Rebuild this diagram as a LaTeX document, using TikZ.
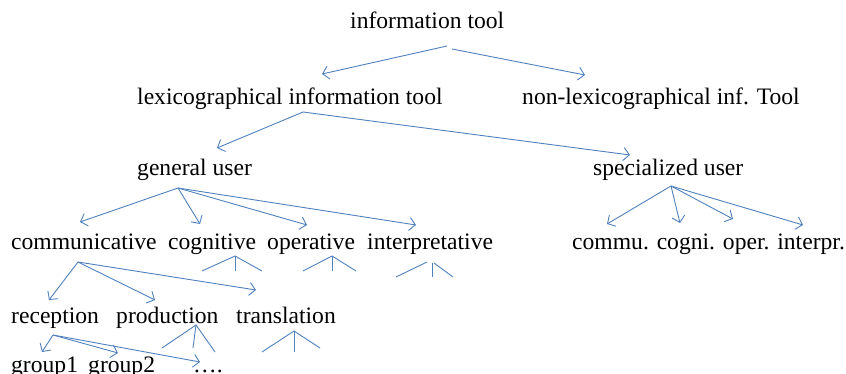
\documentclass[tikz,border=0pt]{standalone}
\usepackage{fontspec}
\setmainfont{Liberation Serif}
\usetikzlibrary{arrows.meta}
\definecolor{lineblue}{RGB}{79,129,189}
\tikzset{
  lbl/.style={anchor=base west, inner sep=0pt, font=\fontsize{23.6}{28}\selectfont},
  arr/.style={draw=lineblue, line width=0.9pt, -{Straight Barb[length=6pt,width=13pt,line width=0.9pt]}},
  stub/.style={draw=lineblue, line width=0.9pt}
}
\begin{document}
\begin{tikzpicture}[x=1pt,y=-1pt]
\useasboundingbox (0,0) rectangle (846,374);
% texts
\node[lbl] (it) at (350,29) {information tool};
\node[lbl] (lex) at (137,105) {lexicographical information tool};
\node[lbl] (nonlex) at (522,105) {non-lexicographical inf. Tool};
\node[lbl] (gen) at (137,176) {general user};
\node[lbl] (spec) at (593,176) {specialized user};
\node[lbl] (comm) at (11,249) {communicative};
\node[lbl] (cogn) at (168,249) {cognitive};
\node[lbl] (oper) at (267,249) {operative};
\node[lbl] (interp) at (367,249) {interpretative};
\node[lbl] (sabbr) at (572,250) {commu. cogni. oper. interpr.};
\node[lbl] (rec) at (11,323) {reception};
\node[lbl] (prod) at (116,323) {production};
\node[lbl] (trans) at (236,323) {translation};
\node[lbl] (g1) at (11,372) {group1};
\node[lbl] (g2) at (88,372) {group2};
\node[lbl] (dots) at (193,372) {\dots.};
% connector points
\coordinate (itA) at (447,46);
\coordinate (itB) at (452,49);
\coordinate (lexE) at (322,74);
\coordinate (nonE) at (585,75);
\coordinate (lexS) at (303,112);
\coordinate (genE) at (217,148);
\coordinate (specE) at (630,155);
\coordinate (genS) at (178,188);
\coordinate (commE) at (80,222);
\coordinate (cognE) at (200,224);
\coordinate (operE) at (307,225);
\coordinate (interpE) at (416,225);
\coordinate (specS) at (671,186);
\coordinate (s1) at (607,224);
\coordinate (s2) at (680,223);
\coordinate (s3) at (733,219);
\coordinate (s4) at (803,225);
\coordinate (commS) at (78,262);
\coordinate (recE) at (49,300);
\coordinate (prodE) at (155,300);
\coordinate (transE) at (256,290);
\coordinate (recS) at (53,335);
\coordinate (g1E) at (42,352);
\coordinate (g2E) at (118,353);
\coordinate (dotsE) at (200,362);
% arrows
\draw[arr] (itA) -- (lexE);
\draw[arr] (itB) -- (nonE);
\draw[arr] (lexS) -- (genE);
\draw[arr] (lexS) -- (specE);
\draw[arr] (genS) -- (commE);
\draw[arr] (genS) -- (cognE);
\draw[arr] (genS) -- (operE);
\draw[arr] (genS) -- (interpE);
\draw[arr] (specS) -- (s1);
\draw[arr] (specS) -- (s2);
\draw[arr] (specS) -- (s3);
\draw[arr] (specS) -- (s4);
\draw[arr] (commS) -- (recE);
\draw[arr] (commS) -- (prodE);
\draw[arr] (commS) -- (transE);
\draw[arr] (recS) -- (g1E);
\draw[arr] (recS) -- (g2E);
\draw[arr] (recS) -- (dotsE);
% stubs under cognitive
\coordinate (cA) at (235,256);
\coordinate (cL) at (202,271);
\coordinate (cM) at (235,271);
\coordinate (cR) at (262,271);
\draw[stub] (cL) -- (cA) -- (cR);
\draw[stub] (cA) -- (cM);
% stubs under operative
\coordinate (oA) at (332,256);
\coordinate (oL) at (303,271);
\coordinate (oM) at (332,271);
\coordinate (oR) at (356,271);
\draw[stub] (oL) -- (oA) -- (oR);
\draw[stub] (oA) -- (oM);
% stubs under interpretative
\coordinate (iL1) at (396,277);
\coordinate (iL2) at (427,262);
\coordinate (iM1) at (432,263);
\coordinate (iM2) at (432,277);
\coordinate (iR1) at (434,263);
\coordinate (iR2) at (453,277);
\draw[stub] (iL1) -- (iL2);
\draw[stub] (iM1) -- (iM2);
\draw[stub] (iR1) -- (iR2);
% stubs under production
\coordinate (pA) at (196,325);
\coordinate (pL) at (162,348);
\coordinate (pM) at (193,348);
\coordinate (pR) at (215,352);
\draw[stub] (pL) -- (pA) -- (pR);
\draw[stub] (pA) -- (pM);
% stubs under translation
\coordinate (tA) at (294,331);
\coordinate (tL) at (262,352);
\coordinate (tM) at (294,352);
\coordinate (tR) at (320,348);
\draw[stub] (tL) -- (tA) -- (tR);
\draw[stub] (tA) -- (tM);
\end{tikzpicture}
\end{document}
